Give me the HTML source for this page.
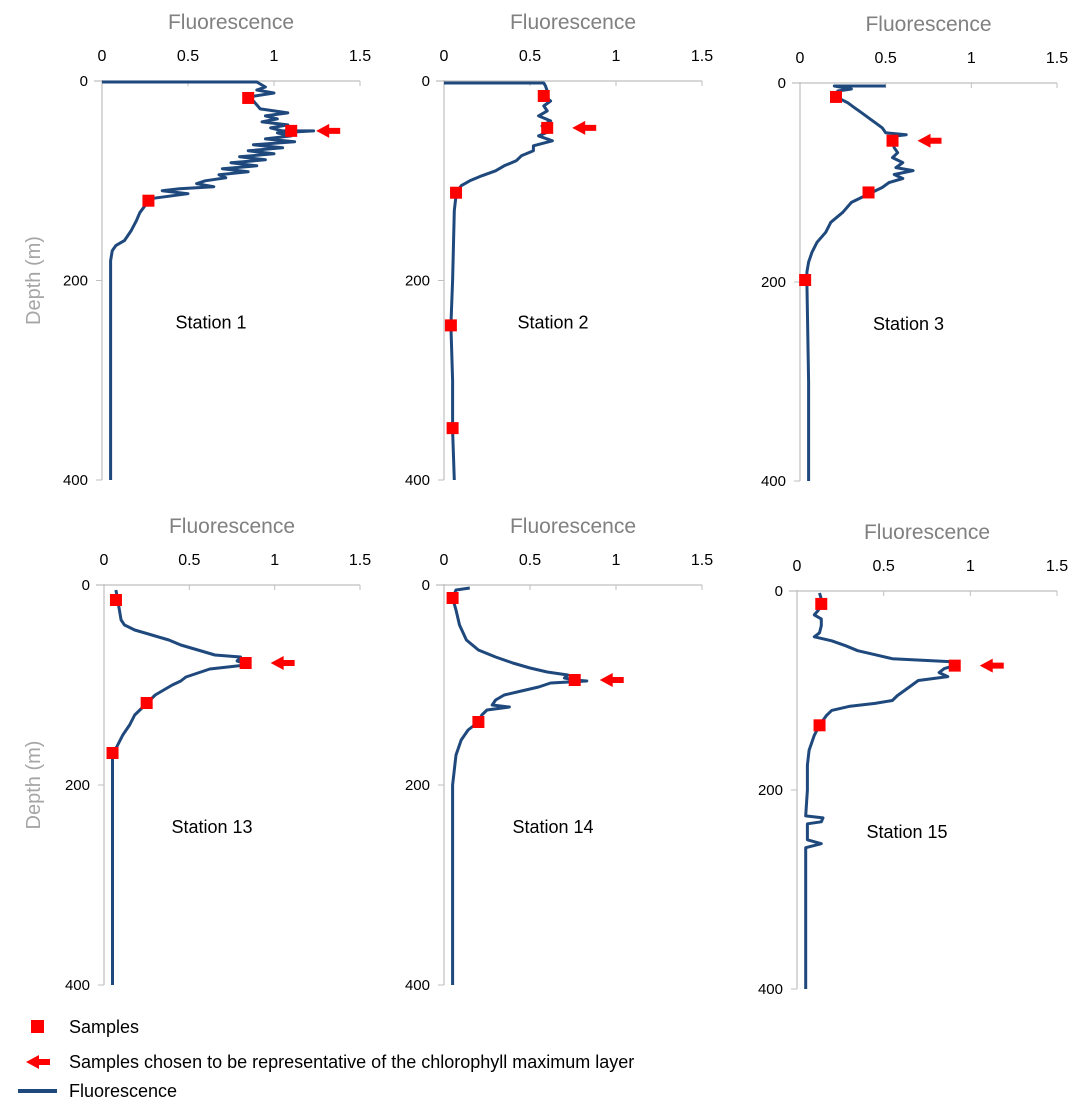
<!DOCTYPE html>
<html><head><meta charset="utf-8"><style>
body{margin:0;background:#fff;width:1076px;height:1111px;overflow:hidden;font-family:"Liberation Sans",sans-serif}
svg text{font-family:"Liberation Sans",sans-serif}
</style></head><body>
<svg id="c" width="1076" height="1111" viewBox="0 0 1076 1111" xmlns="http://www.w3.org/2000/svg"></svg>
<script>
// Station 1
const s1Depth=[1,1,3,6,9,12,16,20,24,28,32,35,38,41,44,47,50,50,52,55,58,61,64,67,70,73,76,79,82,85,88,91,94,97,100,103,106,108,110,113,118,125,132,140,150,160,165,170,180,200,250,300,350,400];
const s1Val=[0,0.9,0.92,0.95,0.9,1.0,0.85,0.88,0.9,0.92,1.08,0.95,1.02,0.93,1.08,0.98,1.05,1.23,1.02,1.1,0.95,1.12,0.88,1.05,0.85,1.0,0.8,0.95,0.75,0.9,0.7,0.85,0.68,0.72,0.6,0.55,0.65,0.45,0.35,0.5,0.28,0.25,0.22,0.2,0.17,0.13,0.08,0.06,0.05,0.05,0.05,0.05,0.05,0.05];
const s1SampleD=[17,50,120];const s1SampleV=[0.85,1.1,0.27];const s1Arrow=[50];
// Station 2
const s2Depth=[2,2,5,10,15,20,25,30,35,40,45,50,55,60,65,70,75,80,85,90,95,100,105,110,115,130,200,245,300,350,400];
const s2Val=[0,0.58,0.59,0.6,0.58,0.62,0.58,0.6,0.55,0.62,0.57,0.62,0.55,0.63,0.52,0.52,0.45,0.42,0.35,0.3,0.22,0.15,0.1,0.08,0.07,0.06,0.05,0.04,0.05,0.05,0.06];
const s2SampleD=[15,47,112,245,348];const s2SampleV=[0.58,0.6,0.07,0.04,0.05];const s2Arrow=[47];
// Station 3
const s3Depth=[3,3,6,8,14,20,25,30,35,40,45,50,52,54,58,65,70,75,80,85,88,92,96,100,105,110,120,130,140,150,160,170,180,190,200,300,400];
const s3Val=[0.5,0.2,0.3,0.22,0.21,0.28,0.32,0.36,0.4,0.44,0.48,0.5,0.62,0.52,0.54,0.55,0.57,0.54,0.6,0.56,0.66,0.55,0.6,0.52,0.48,0.42,0.3,0.25,0.18,0.15,0.1,0.07,0.05,0.04,0.04,0.05,0.05];
const s3SampleD=[14,58,110,198];const s3SampleV=[0.21,0.54,0.4,0.03];const s3Arrow=[58];
// Station 13
const s13Depth=[5,15,25,35,40,45,50,55,60,65,70,72,76,78,80,84,88,92,96,100,105,110,115,120,130,140,150,160,170,180,200,300,400];
const s13Val=[0.07,0.08,0.09,0.1,0.12,0.18,0.28,0.38,0.45,0.55,0.65,0.8,0.78,0.82,0.83,0.62,0.55,0.48,0.45,0.4,0.35,0.3,0.27,0.24,0.18,0.15,0.11,0.08,0.05,0.05,0.05,0.05,0.05];
const s13SampleD=[15,78,118,168];const s13SampleV=[0.07,0.83,0.25,0.05];const s13Arrow=[78];
// Station 14
const s14Depth=[3,5,13,25,40,55,65,72,78,83,87,90,93,95,96,98,102,106,110,115,120,122,125,130,137,145,155,170,200,300,400];
const s14Val=[0.15,0.07,0.05,0.07,0.09,0.13,0.2,0.3,0.4,0.5,0.6,0.72,0.7,0.76,0.83,0.62,0.55,0.45,0.35,0.3,0.28,0.38,0.25,0.22,0.2,0.14,0.1,0.07,0.05,0.05,0.05];
const s14SampleD=[13,95,137];const s14SampleV=[0.05,0.76,0.2];const s14Arrow=[95];
// Station 15
const s15Depth=[2,8,15,20,24,28,35,42,46,50,55,60,64,68,71,74,78,82,86,90,95,100,105,110,113,116,120,125,130,135,145,160,175,200,226,228,232,234,250,254,258,300,400];
const s15Val=[0.13,0.14,0.14,0.12,0.1,0.14,0.14,0.13,0.1,0.2,0.28,0.35,0.45,0.55,0.88,0.93,0.85,0.82,0.87,0.7,0.66,0.62,0.58,0.55,0.45,0.3,0.2,0.17,0.15,0.13,0.1,0.07,0.06,0.06,0.05,0.15,0.14,0.06,0.06,0.14,0.05,0.05,0.05];
const s15SampleD=[13,75,135];const s15SampleV=[0.14,0.91,0.13];const s15Arrow=[75];

const xTicks=["0","0.5","1","1.5"];const xTickVals=[0,0.5,1,1.5];
const yTicks=["0","200","400"];const yTickVals=[0,200,400];

const panels=[
 {name:"station-1",label:"Station 1",x0:102,x1:360,y0:81,y1:480,d:s1Depth,v:s1Val,sd:s1SampleD,sv:s1SampleV,ar:s1Arrow,ytitle:true},
 {name:"station-2",label:"Station 2",x0:444,x1:702,y0:81,y1:480,d:s2Depth,v:s2Val,sd:s2SampleD,sv:s2SampleV,ar:s2Arrow},
 {name:"station-3",label:"Station 3",x0:800,x1:1057,y0:83,y1:481,d:s3Depth,v:s3Val,sd:s3SampleD,sv:s3SampleV,ar:s3Arrow},
 {name:"station-13",label:"Station 13",x0:104,x1:360,y0:585,y1:985,d:s13Depth,v:s13Val,sd:s13SampleD,sv:s13SampleV,ar:s13Arrow,ytitle:true},
 {name:"station-14",label:"Station 14",x0:444,x1:702,y0:585,y1:985,d:s14Depth,v:s14Val,sd:s14SampleD,sv:s14SampleV,ar:s14Arrow},
 {name:"station-15",label:"Station 15",x0:797,x1:1057,y0:591,y1:989,d:s15Depth,v:s15Val,sd:s15SampleD,sv:s15SampleV,ar:s15Arrow}
];
const NS="http://www.w3.org/2000/svg";
const svg=document.getElementById('c');
function mk(tag,attrs,parent){const e=document.createElementNS(NS,tag);for(const k in attrs)e.setAttribute(k,attrs[k]);(parent||svg).appendChild(e);return e;}
function arrowPath(x,y){return `M${x},${y} L${x+13},${y-7} L${x+13},${y-3} L${x+24},${y-3} L${x+24},${y+3} L${x+13},${y+3} L${x+13},${y+7} Z`;}
panels.forEach(p=>{
 const sx=v=>p.x0+(p.x1-p.x0)*v/1.5;
 const sy=d=>p.y0+(p.y1-p.y0)*d/400;
 const g=mk('g',{});
 
 
 const t=mk('text',{x:(p.x0+p.x1)/2,y:p.y0-52,'text-anchor':'middle','font-size':21,fill:'#808080'},g);
 t.textContent='Fluorescence';
 
 
 const ax=mk('line',{x1:p.x0-8,y1:p.y0,x2:p.x1,y2:p.y0,stroke:'#bfbfbf','stroke-width':1.2},g);
 
 
 const ay=mk('line',{x1:p.x0,y1:p.y0-1,x2:p.x0,y2:p.y1,stroke:'#bfbfbf','stroke-width':1.2},g);
 
 
 xTickVals.forEach((v,i)=>{
  mk('line',{x1:sx(v),y1:p.y0,x2:sx(v),y2:p.y0+5,stroke:'#bfbfbf'},g);
  const tl=mk('text',{x:sx(v),y:p.y0-20,'text-anchor':'middle','font-size':16,fill:'#000'},g);
  tl.textContent=xTicks[i];
  
  
 });
 yTickVals.forEach((v,i)=>{
  mk('line',{x1:p.x0-6,y1:sy(v),x2:p.x0,y2:sy(v),stroke:'#bfbfbf'},g);
  const tl=mk('text',{x:p.x0-14,y:sy(v)+5,'text-anchor':'end','font-size':15,fill:'#000'},g);
  tl.textContent=yTicks[i];
  
  
 });
 if(p.ytitle){
  const cy=(p.y0+p.y1)/2;
  const yt=mk('text',{x:40,y:cy,'text-anchor':'middle','font-size':20,fill:'#a6a6a6',transform:`rotate(-90 40 ${cy})`},g);
  yt.textContent='Depth (m)';
  
  
 }
 const pts=p.d.map((d,i)=>sx(p.v[i]).toFixed(1)+','+sy(d).toFixed(1)).join(' ');
 const pl=mk('polyline',{points:pts,fill:'none',stroke:'#1f497d','stroke-width':3,'stroke-linejoin':'round'},g);
 
 
 p.sd.forEach((d,i)=>{
  const r=mk('rect',{x:sx(p.sv[i])-6,y:sy(d)-6,width:12,height:12,fill:'#ff0000'},g);
  
  
 });
 p.ar.forEach(d=>{
  const idx=p.sd.indexOf(d);
  const ax0=sx(p.sv[idx])+25;
  const a=mk('path',{d:arrowPath(ax0,sy(d)),fill:'#ff0000'},g);
  
  
 });
 const lb=mk('text',{x:(p.x0+p.x1)/2-20,y:sy(245)+3,'text-anchor':'middle','font-size':18,fill:'#000'},g);
 lb.textContent=p.label;
 
 
});
// legend
const lg=mk('g',{});


const l1=mk('rect',{x:31,y:1020,width:13,height:13,fill:'#ff0000'},lg);


const t1=mk('text',{x:69,y:1033,'font-size':18,fill:'#000'},lg);t1.textContent='Samples';


const l2=mk('path',{d:arrowPath(26,1062),fill:'#ff0000'},lg);


const t2=mk('text',{x:69,y:1068,'font-size':18,fill:'#000'},lg);t2.textContent='Samples chosen to be representative of the chlorophyll maximum layer';


const l3=mk('line',{x1:18,y1:1091,x2:57,y2:1091,stroke:'#1f497d','stroke-width':4},lg);


const t3=mk('text',{x:69,y:1097,'font-size':18,fill:'#000'},lg);t3.textContent='Fluorescence';


</script>
</body></html>
